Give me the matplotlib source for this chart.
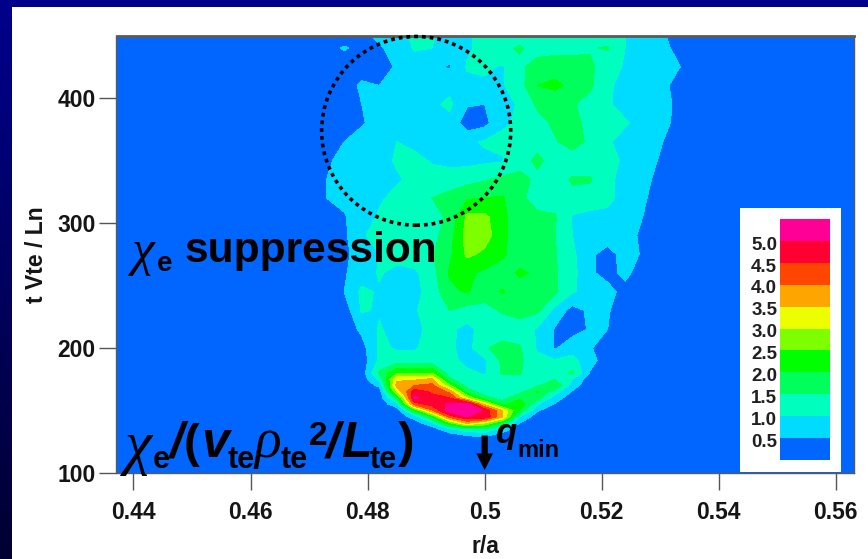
import numpy as np
import matplotlib
matplotlib.use("Agg")
import matplotlib.pyplot as plt
from matplotlib.patches import Ellipse, Rectangle

plt.rcParams['font.family'] = ['Liberation Sans', 'DejaVu Sans']

W, H = 868, 559

# radial positions (r/a) of the grid columns
r_a = [0.470, 0.473, 0.476, 0.479, 0.482, 0.485, 0.488, 0.491, 0.494, 0.497, 0.500, 0.503,
       0.506, 0.509, 0.512, 0.515, 0.518, 0.521, 0.524, 0.527, 0.530, 0.533, 0.536]

# time rows, top of the picture first
t_vals = [450, 440, 425, 410, 395, 380, 365, 350, 335, 320, 305, 290, 275, 260, 245, 230, 215,
          200, 190, 180, 175, 170, 165, 160, 155, 150, 145, 140, 135, 130, 125]

chi_rows = [
    [.2, .2, .2, .4, .6, .8, 1.1, 1.05, .8, .9, 1.2, 1.3, 1.3, 1.3, 1.3, 1.3, 1.3, 1.2, 1.0, .8, .6, .3, .2],
    [.2, .3, .55, .35, .45, .65, 1.05, 1.0, .8, .9, 1.2, 1.4, 1.55, 1.3, 1.3, 1.3, 1.45, 1.55, 1.0, .8, .7, .35, .2],
    [.2, .2, .2, .2, .3, .55, .75, .6, .45, 1.05, 1.1, .95, 1.4, 1.7, 1.8, 1.8, 1.6, 1.2, .95, .8, .7, .55, .2],
    [.2, .2, .2, .6, .5, .7, .75, .8, .85, .85, .9, .95, 1.3, 2.0, 2.1, 1.9, 1.6, 1.05, .9, .8, .7, .3, .2],
    [.2, .2, .2, .5, .7, .8, .85, .9, 1.1, .55, .5, .85, 1.05, 1.6, 1.7, 1.55, 1.3, 1.05, .85, .8, .7, .4, .2],
    [.2, .2, .2, .45, .7, .8, .85, .9, .85, .2, .35, .9, 1.1, 1.3, 1.6, 1.7, 1.3, 1.2, 1.05, .85, .7, .35, .2],
    [.2, .2, .5, .7, .8, 1.0, .85, .85, .85, .9, 1.05, 1.15, 1.3, 1.35, 1.45, 1.7, 1.4, 1.05, .85, .75, .55, .2, .2],
    [.2, .45, .6, .75, .85, 1.05, 1.15, .95, .85, .85, .9, .95, 1.3, 1.6, 1.3, 1.25, 1.2, 1.1, .95, .75, .45, .2, .2],
    [.2, .5, .65, .75, .85, .95, 1.1, 1.2, 1.25, 1.3, 1.45, 1.6, 1.65, 1.4, 1.3, 1.55, 1.55, 1.1, .85, .7, .3, .2, .2],
    [.2, .5, .65, .75, .95, 1.1, 1.25, 1.5, 1.65, 1.95, 2.0, 2.05, 1.6, 1.3, 1.25, 1.4, 1.3, 1.1, .85, .6, .2, .2, .2],
    [.2, .2, .45, .8, 1.05, 1.15, 1.2, 1.3, 1.6, 2.6, 2.6, 2.2, 1.55, 1.6, 1.55, .95, .85, .9, .8, .5, .2, .2, .2],
    [.2, .2, .4, .95, 1.15, 1.5, 1.4, 1.3, 1.8, 2.7, 2.7, 2.2, 1.5, 1.6, 1.5, 1.0, .8, .75, .6, .45, .2, .2, .2],
    [.2, .2, .4, .7, 1.0, 1.2, 1.3, 1.45, 1.9, 2.6, 2.4, 2.1, 1.7, 1.6, 1.55, 1.1, .6, .3, .7, .45, .2, .2, .2],
    [.2, .2, .45, .75, 1.05, .85, .9, 1.3, 2.05, 2.1, 1.9, 1.7, 2.1, 1.9, 1.55, 1.15, .6, .3, .65, .2, .2, .2, .2],
    [.2, .2, .5, 1.1, .95, .8, .85, 1.2, 1.9, 2.05, 1.7, 2.05, 1.7, 1.65, 1.6, 1.05, .8, .7, .3, .2, .2, .2, .2],
    [.2, .2, .2, 1.05, .95, .8, .9, 1.45, 1.5, 1.3, 1.35, 1.55, 1.7, 1.6, .85, .3, .6, .55, .2, .2, .2, .2, .2],
    [.2, .2, .2, .6, 1.05, .8, .9, 1.1, 1.1, .85, 1.2, 1.25, 1.25, .95, .45, .3, .55, .5, .2, .2, .2, .2, .2],
    [.2, .2, .2, .3, 1.1, .95, .95, 1.2, 1.1, .8, 1.45, 1.65, 1.55, .95, .45, .8, .55, .2, .2, .2, .2, .2, .2],
    [.2, .2, .2, .2, 1.1, 1.2, 1.2, 1.2, 1.15, .85, .9, 1.6, 1.6, 1.1, 1.05, 1.15, .7, .2, .2, .2, .2, .2, .2],
    [.2, .2, .2, .2, 1.6, 2.4, 2.4, 2.5, 1.2, 1.1, .95, 1.55, 1.55, 1.05, 1.2, 1.6, .45, .2, .2, .2, .2, .2, .2],
    [.2, .2, .2, .2, 1.1, 3.4, 3.4, 3.6, 1.6, 1.1, 1.1, 1.3, 1.3, 1.15, 1.5, 1.0, .2, .2, .2, .2, .2, .2, .2],
    [.2, .2, .2, .2, .6, 3.7, 4.0, 4.15, 2.6, 1.3, 1.15, 1.2, 1.2, 1.4, 2.0, .7, .2, .2, .2, .2, .2, .2, .2],
    [.2, .2, .2, .2, .2, 3.0, 4.8, 4.4, 3.9, 1.8, 1.2, 1.2, 1.35, 2.05, 1.2, .45, .2, .2, .2, .2, .2, .2, .2],
    [.2, .2, .2, .2, .2, 1.7, 5.1, 4.7, 4.5, 3.0, 1.7, 1.3, 1.9, 1.7, .75, .2, .2, .2, .2, .2, .2, .2, .2],
    [.2, .2, .2, .2, .2, .8, 4.2, 4.7, 5.1, 5.3, 3.4, 1.8, 2.4, 1.05, .45, .2, .2, .2, .2, .2, .2, .2, .2],
    [.2, .2, .2, .2, .2, .2, 2.0, 3.9, 5.3, 5.6, 4.9, 3.5, 1.9, .55, .2, .2, .2, .2, .2, .2, .2, .2, .2],
    [.2, .2, .2, .2, .2, .2, .7, 2.0, 4.2, 5.0, 4.9, 3.6, 1.0, .2, .2, .2, .2, .2, .2, .2, .2, .2, .2],
    [.2, .2, .2, .2, .2, .2, .2, .9, 2.4, 3.6, 3.0, 1.9, .5, .2, .2, .2, .2, .2, .2, .2, .2, .2, .2],
    [.2, .2, .2, .2, .2, .2, .2, .2, .9, 1.3, 1.4, .8, .2, .2, .2, .2, .2, .2, .2, .2, .2, .2, .2],
    [.2, .2, .2, .2, .2, .2, .2, .2, .2, .5, .6, .2, .2, .2, .2, .2, .2, .2, .2, .2, .2, .2, .2],
    [.2, .2, .2, .2, .2, .2, .2, .2, .2, .2, .2, .2, .2, .2, .2, .2, .2, .2, .2, .2, .2, .2, .2],
]

levels = [0, 0.5, 1.0, 1.5, 2.0, 2.5, 3.0, 3.5, 4.0, 4.5, 5.0, 10]
band_colors = ['#0066ff', '#00dcff', '#00ffbe', '#00ff5a', '#00ff00', '#7dff00',
               '#ebff00', '#ffa500', '#ff4600', '#ff0032', '#ff0096']
legend_labels = ['0.5', '1.0', '1.5', '2.0', '2.5', '3.0', '3.5', '4.0', '4.5', '5.0']

x_ticks = [0.44, 0.46, 0.48, 0.50, 0.52, 0.54, 0.56]
x_labels = ['0.44', '0.46', '0.48', '0.5', '0.52', '0.54', '0.56']
y_ticks = [100, 200, 300, 400]


def px_axes(left, top, right, bottom):
    # axes rectangle given in picture pixels
    return [left / W, 1 - bottom / H, (right - left) / W, (bottom - top) / H]


def px_text(x, y, s, **kw):
    # text with its baseline given in picture pixels
    kw.setdefault('fontweight', 'bold')
    kw.setdefault('color', 'black')
    fig.text(x / W, 1 - y / H, s, va='baseline', zorder=20, **kw)


fig = plt.figure(figsize=(W / 100, H / 100), dpi=100)

# slide background: navy fading down, white panel on top
bg = fig.add_axes([0, 0, 1, 1], zorder=0)
grad = np.linspace(0, 1, 256).reshape(-1, 1, 1)
top_col = np.array([0, 0, 140]) / 255
bot_col = np.array([0, 0, 50]) / 255
bg.imshow(top_col + (bot_col - top_col) * grad, aspect='auto', extent=[0, W, H, 0])
bg.add_patch(Rectangle((12, 7), W - 12, H - 7, color='white', lw=0))
bg.set_xlim(0, W)
bg.set_ylim(H, 0)
bg.axis('off')

ax = fig.add_axes(px_axes(116.5, 35.5, 854, 473), zorder=1)
ax.set_facecolor(band_colors[0])
ax.contourf(r_a, t_vals, np.array(chi_rows), levels=levels, colors=band_colors)
ax.set_xlim(0.4371, 0.5631)
ax.set_ylim(100, 450)

ax.set_xticks(x_ticks)
ax.set_xticklabels(x_labels)
ax.set_yticks(y_ticks)
ax.tick_params(axis='x', length=12, width=1.0, color='#555555', pad=8, labelsize=16.5)
ax.tick_params(axis='y', length=12, width=1.0, color='#555555', pad=3, labelsize=16.5)
for lab in ax.get_xticklabels() + ax.get_yticklabels():
    lab.set_fontweight('bold')
    lab.set_color('#151515')
for side in ax.spines:
    ax.spines[side].set_color('#5a5a5a')
    ax.spines[side].set_linewidth(1.0)
ax.spines['top'].set_linewidth(2.0)

ax.set_xlabel('r/a', fontsize=16.5, fontweight='bold', color='#151515', va='center')
ax.set_ylabel('t Vte / Ln', fontsize=16.5, fontweight='bold', color='#151515', va='center')
ax.xaxis.set_label_coords(0.4997, -0.169)
ax.yaxis.set_label_coords(-0.108, 0.498)

# dotted circle around the suppressed region
ax.add_patch(Ellipse((0.4883, 373.7), 189 / 5850, 189 / 1.2514, fill=False, edgecolor='black',
                     lw=2.6, ls=(0, (1.05, 1.1)), clip_on=False, zorder=5))

# q_min arrow
ax.annotate('', xy=(0.5, 102.3), xytext=(0.5, 130),
            arrowprops=dict(facecolor='black', edgecolor='black', width=4.5, headwidth=12,
                            headlength=12, shrink=0, lw=0), zorder=6)

# colour key
box = fig.add_axes(px_axes(740, 208, 841, 472), zorder=2)
box.set_facecolor('white')
box.set_xticks([])
box.set_yticks([])
for side in box.spines:
    box.spines[side].set_visible(False)

key = fig.add_axes(px_axes(780, 219, 830, 460), zorder=3)
key.imshow(np.arange(len(band_colors)).reshape(-1, 1), origin='lower', aspect='auto',
           cmap=matplotlib.colors.ListedColormap(band_colors), extent=[0, 1, 0, len(band_colors)])
key.set_xticks([])
key.set_yticks([i + 0.9 for i in range(len(legend_labels))])
key.set_yticklabels(legend_labels, fontsize=13.5, fontweight='bold', color='#202020')
key.tick_params(axis='y', length=0, pad=2)
for side in key.spines:
    key.spines[side].set_visible(False)

# annotations written over the plot
greek = dict(family='Liberation Serif', fontstyle='italic', fontweight='normal')
px_text(131, 265, '\u03c7', fontsize=37, **greek)
px_text(157, 271, 'e', fontsize=20)
px_text(185, 262, 'suppression', fontsize=30.6)

px_text(125, 463, '\u03c7', fontsize=44, **greek)
px_text(153, 468, 'e', fontsize=22)
px_text(170, 457, '/', fontsize=36, fontstyle='italic')
px_text(184, 457, '(', fontsize=34)
px_text(201, 457, 'v', fontsize=36, fontstyle='italic')
px_text(228, 468, 'te', fontsize=22)
px_text(254, 457, '\u03c1', fontsize=40, **greek)
px_text(281, 468, 'te', fontsize=22)
px_text(309, 445, '2', fontsize=24)
px_text(326, 457, '/', fontsize=36, fontstyle='italic')
px_text(341, 457, 'L', fontsize=36, fontstyle='italic')
px_text(370, 468, 'te', fontsize=22)
px_text(398, 457, ')', fontsize=36)

px_text(496, 443, 'q', fontsize=25, fontstyle='italic')
px_text(517, 457, 'min', fontsize=17)

fig.savefig('out.png', dpi=100)
